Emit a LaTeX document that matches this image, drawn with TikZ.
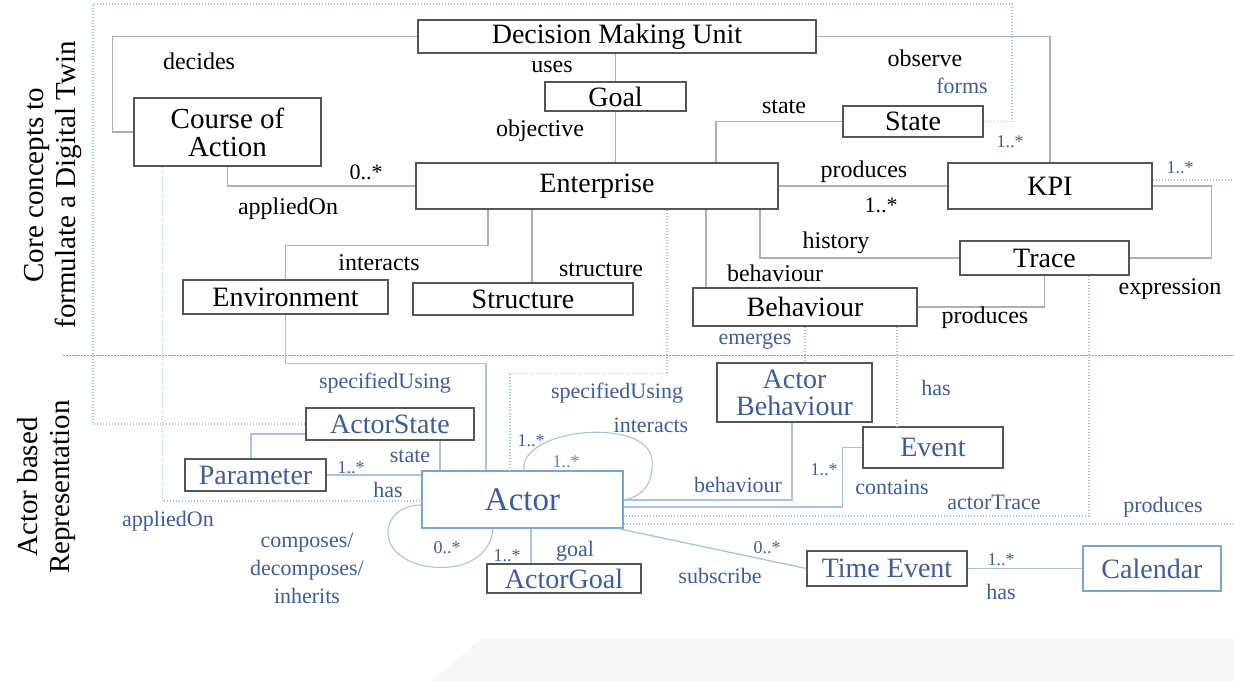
\documentclass[tikz,border=0pt]{standalone}
\usepackage{fontspec}
\setmainfont{Liberation Serif}
\usetikzlibrary{calc}
\definecolor{boxline}{RGB}{85,85,85}
\definecolor{conn}{RGB}{175,175,175}
\definecolor{blueline}{RGB}{165,195,228}
\definecolor{bluedot}{RGB}{160,195,232}
\definecolor{bluetext}{RGB}{60,92,158}
\definecolor{brightblue}{RGB}{70,140,210}
\definecolor{actorline}{RGB}{120,165,215}
\definecolor{sepline}{RGB}{150,150,150}
\definecolor{floor}{RGB}{247,247,247}

\begin{document}
\begin{tikzpicture}[x=1pt,y=-1pt,
  box/.style={draw=boxline, line width=1.4pt, fill=white, inner sep=0pt, align=center,
              font=\fontsize{28}{27}\selectfont},
  bbox/.style={box, text=bluetext},
  abox/.style={bbox, draw=actorline},
  graylink/.style={draw=conn, line width=1.3pt},
  bluelink/.style={draw=blueline, line width=1.3pt},
  dotlink/.style={draw=bluedot, line width=1.2pt, dash pattern=on 1.2pt off 1.8pt},
  sep/.style={draw=sepline, line width=1pt, dash pattern=on 1.5pt off 1.5pt},
  lbl/.style={inner sep=0pt, text=black, font=\fontsize{24}{26}\selectfont},
  blbl/.style={inner sep=0pt, text=bluetext, font=\fontsize{22}{28}\selectfont, align=center},
  mult/.style={inner sep=0pt, text=black, font=\fontsize{22}{24}\selectfont},
  bmult/.style={inner sep=0pt, text=bluetext, font=\fontsize{18}{20}\selectfont},
  side/.style={rotate=90, align=center, inner sep=0pt, font=\fontsize{29}{32}\selectfont}
]
\useasboundingbox (0,0) rectangle (1234,680);

% floor shading at the bottom
\fill[floor] (482,638) -- (1240,638) -- (1240,685) -- (427,685) -- cycle;

% side titles
\node[side] (coreTitle) at (53,185) {Core concepts to\\formulate a Digital Twin};
\node[side] (actorTitle) at (47,487) {Actor based\\Representation};

% separator between the two layers
\coordinate (sepL) at (63,355);
\coordinate (sepR) at (1240,355);
\draw[sep] (sepL) -- (sepR);

% ---------- core concept boxes ----------
\node[box, minimum width=398, minimum height=33] (dmu) at (617,36.5) {Decision Making Unit};
\node[box, minimum width=141, minimum height=29] (goal) at (615.5,96.5) {Goal};
\node[box, minimum width=187, minimum height=68, font=\fontsize{29}{28}\selectfont] (coa) at (227.5,132) {Course of\\Action};
\node[box, minimum width=362, minimum height=46] (ent) at (597,186) {Enterprise};
\node[box, minimum width=140, minimum height=31] (state) at (913,121.5) {State};
\node[box, minimum width=204, minimum height=46] (kpi) at (1050,186) {KPI};
\node[box, minimum width=169, minimum height=34] (trace) at (1044.5,258) {Trace};
\node[box, minimum width=205, minimum height=34] (env) at (285.5,297) {Environment};
\node[box, minimum width=220, minimum height=32] (struct) at (523,299) {Structure};
\node[box, minimum width=224, minimum height=38] (beh) at (805,307) {Behaviour};

% ---------- actor layer boxes ----------
\node[bbox, minimum width=155, minimum height=59] (abeh) at (794.5,392.5) {Actor\\Behaviour};
\node[bbox, minimum width=140, minimum height=41] (event) at (933,447.5) {Event};
\node[bbox, minimum width=168, minimum height=32] (astate) at (390,424) {ActorState};
\node[bbox, minimum width=141, minimum height=32] (param) at (255.5,475) {Parameter};
\node[abox, minimum width=201, minimum height=57, font=\fontsize{33}{33}\selectfont] (actor) at (522.5,499.5) {Actor};
\node[bbox, minimum width=154, minimum height=29] (agoal) at (564,578.5) {ActorGoal};
\node[bbox, minimum width=160, minimum height=35] (tevent) at (887,568.5) {Time Event};
\node[abox, minimum width=138, minimum height=45] (cal) at (1152,568.5) {Calendar};

% ---------- core concept relations ----------
\draw[graylink] (dmu.west) -- ++(-305,0) |- (coa.west);
\draw[graylink] (dmu.east) -| (kpi.north);
\draw[graylink] (goal.north) -- (goal.north |- dmu.south);
\draw[graylink] (goal.south) -- (goal.south |- ent.north);
\draw[graylink] ([xshift=119]ent.north) |- (state.west);
\draw[graylink] (coa.south) |- (ent.west);
\draw[graylink] (ent.east) -- (kpi.west);
\draw[graylink] (kpi.east) -- ++(59,0) |- (trace.east);
\draw[graylink] ([xshift=163]ent.south) |- (trace.west);
\draw[graylink] ([xshift=109]ent.south) -- ([xshift=109]ent.south |- beh.north);
\draw[graylink] ([xshift=-65]ent.south) -- ([xshift=-65]ent.south |- struct.north);
\draw[graylink] ([xshift=-109]ent.south) -- ++(0,36) -| (env.north);
\draw[graylink] (beh.east) -| (trace.south);

% ---------- links between the layers ----------
\coordinate (topL) at (93,4);
\coordinate (topR) at (1012,4);
\draw[dotlink] (astate.west) -| (topL) -- (topR) |- (state.east);
\draw[dotlink] ([xshift=29]coa.south west) |- ([yshift=-1.5]actor.west);
\draw[bluelink] (env.south) -- ++(0,49) -| ([xshift=-36.5]actor.north);
\draw[dotlink] ([xshift=70]ent.south) -- ++(0,164) -| ([xshift=-12.5]actor.north);
\draw[dotlink] (beh.south) -- (beh.south |- abeh.north);
\draw[dotlink] ([xshift=92]beh.south) -- ([xshift=92]beh.south |- event.north);
\draw[dotlink] ([xshift=44.5]trace.south) |- ([yshift=-16.5]actor.east);
\draw[dotlink] ([yshift=6]kpi.east) -- ++(95,0) |- ([yshift=-24.5]actor.east);

% ---------- actor layer relations ----------
\draw[bluelink] ([yshift=-0.5]actor.east) -| ([xshift=-2.5]abeh.south);
\draw[bluelink] ([yshift=-7.5]actor.east) -- ++(219,0) |- (event.west);
\draw[bluelink] ([xshift=50]astate.south) -- ([xshift=50]astate.south |- actor.north);
\draw[bluelink] (param.east) -- (param.east -| actor.west);
\draw[bluelink] ([xshift=-4.5]param.north) |- ([yshift=-10]astate.west);
\draw[bluelink] ([xshift=8.5]actor.south) -- ([xshift=8.5]actor.south |- agoal.north);
\draw[bluelink] ([xshift=-5]actor.south east) -- (tevent.west);
\draw[bluelink] (tevent.east) -- (cal.west);
% self relations of the actor
\draw[bluelink, line width=1.1pt] ([xshift=1.5]actor.north)
  .. controls (519,428) and (648,416) .. (652,460)
  .. controls (654,486) and (640,497) .. ([yshift=-0.5]actor.east);
\draw[bluelink, line width=1.1pt] ([yshift=-5.5]actor.west)
  .. controls (378,505) and (372,560) .. (432,567)
  .. controls (474,571) and (492,548) .. ([xshift=-29.5]actor.south);

% ---------- labels: core layer ----------
\node[lbl] (tDecides) at (199,61) {decides};
\node[lbl] (tUses) at (552,67) {uses};
\node[lbl] (tObjective) at (540,131) {objective};
\node[lbl] (tState) at (784,107) {state};
\node[lbl] (tObserve) at (925,58) {observe};
\node[lbl] (tProduces) at (864,172) {produces};
\node[mult] (mProd) at (881,205) {1..*};
\node[mult] (mApplied) at (366,172) {0..*};
\node[lbl] (tApplied) at (288,209) {appliedOn};
\node[lbl] (tHistory) at (836,243) {history};
\node[lbl] (tInteracts) at (379,263) {interacts};
\node[lbl] (tStructure) at (601,270) {structure};
\node[lbl] (tBehaviour) at (775,273) {behaviour};
\node[lbl] (tExpression) at (1170,289) {expression};
\node[lbl] (tProduces2) at (985,318) {produces};

% ---------- labels: actor layer ----------
\node[blbl] (tForms) at (962,86) {forms};
\node[bmult] (mForms) at (1010,142) {1..*};
\node[bmult] (mKpi) at (1180,168) {1..*};
\node[blbl] (tEmerges) at (755,341) {emerges};
\node[blbl] (tSpecEnv) at (385,383) {specifiedUsing};
\node[blbl] (tSpecEnt) at (617,393) {specifiedUsing};
\node[blbl] (tInteracts2) at (651,425) {interacts};
\node[blbl] (tHas) at (936,388) {has};
\node[blbl] (tStateA) at (410,456) {state};
\node[bmult] (mParam) at (351,468) {1..*};
\node[blbl] (tHasParam) at (388,490) {has};
\node[bmult] (mLoopA) at (531,441) {1..*};
\node[bmult, text=brightblue] (mLoopB) at (566,462) {1..*};
\node[blbl] (tBehA) at (738,485) {behaviour};
\node[bmult] (mEvent) at (824,470) {1..*};
\node[blbl] (tContains) at (892,487) {contains};
\node[blbl] (tActorTrace) at (994,502) {actorTrace};
\node[blbl] (tProducesA) at (1163,507) {produces};
\node[blbl] (tAppliedA) at (168,521) {appliedOn};
\node[blbl] (tCompose) at (307,568) {composes/\\decomposes/\\inherits};
\node[bmult] (mCompose) at (447,548) {0..*};
\node[bmult] (mGoal) at (507,556) {1..*};
\node[blbl] (tGoal) at (575,551) {goal};
\node[bmult] (mSub) at (767,548) {0..*};
\node[blbl] (tSubscribe) at (720,576) {subscribe};
\node[bmult] (mCal) at (1001,560) {1..*};
\node[blbl] (tHasCal) at (1001,592) {has};
\end{tikzpicture}
\end{document}
